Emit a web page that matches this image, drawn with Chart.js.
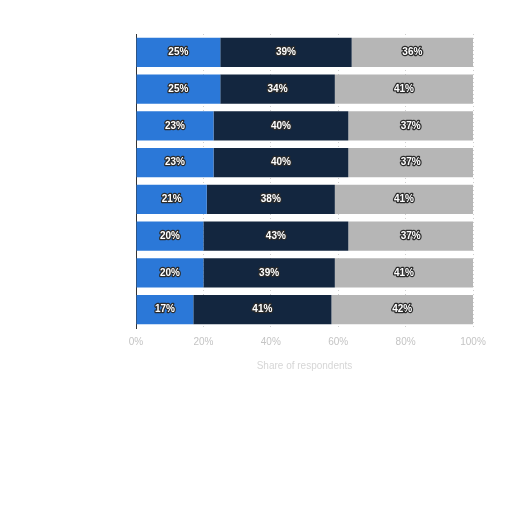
<!DOCTYPE html>
<html>
<head>
<meta charset="utf-8">
<script src="https://cdn.jsdelivr.net/npm/chart.js@4"></script>
<style>
    body { margin: 0; background: #fff; }
</style>
</head>
<body>
<canvas id="myChart" width="512" height="512"></canvas>
<script>
// rows from top to bottom (the category names are not readable in the picture)
const rows = ['Row 1', 'Row 2', 'Row 3', 'Row 4', 'Row 5', 'Row 6', 'Row 7', 'Row 8'];
const seriesA = [25, 25, 23, 23, 21, 20, 20, 17];
const seriesB = [39, 34, 40, 40, 38, 43, 39, 41];
const seriesC = [36, 41, 37, 37, 41, 37, 41, 42];
const xTicks = [0, 20, 40, 60, 80, 100];

// draw the "25%" labels in the middle of each segment
const segmentLabels = {
    id: 'segmentLabels',
    afterDatasetsDraw(chart) {
        const ctx = chart.ctx;
        ctx.save();
        ctx.font = 'bold 10px "Liberation Sans", Arial, sans-serif';
        ctx.textAlign = 'center';
        ctx.textBaseline = 'middle';
        ctx.lineJoin = 'round';
        chart.data.datasets.forEach((ds, i) => {
            const meta = chart.getDatasetMeta(i);
            meta.data.forEach((bar, j) => {
                const text = ds.data[j] + '%';
                const x = (bar.x + bar.base) / 2;
                ctx.lineWidth = 2.5;
                ctx.strokeStyle = '#2b2b2b';
                ctx.strokeText(text, x, bar.y);
                ctx.fillStyle = '#ffffff';
                ctx.fillText(text, x, bar.y);
            });
        });
        ctx.restore();
    }
};

const ctx = document.getElementById('myChart').getContext('2d');
const myChart = new Chart(ctx, {
    type: 'bar',
    data: {
        labels: rows,
        datasets: [
            {
                label: 'Series A',
                data: seriesA,
                backgroundColor: '#2b78d8',
                categoryPercentage: 0.79,
                barPercentage: 1,
            },
            {
                label: 'Series B',
                data: seriesB,
                backgroundColor: '#13263f',
                categoryPercentage: 0.79,
                barPercentage: 1,
            },
            {
                label: 'Series C',
                data: seriesC,
                backgroundColor: '#b6b6b6',
                categoryPercentage: 0.79,
                barPercentage: 1,
            },
        ]
    },
    options: {
        indexAxis: 'y',
        responsive: false,
        animation: false,
        layout: {
            padding: { left: 128, right: 39, top: 34, bottom: 136 }
        },
        plugins: {
            legend: { display: false },
            tooltip: { enabled: false }
        },
        scales: {
            x: {
                stacked: true,
                min: 0,
                max: 100,
                afterBuildTicks: axis => {
                    axis.ticks = xTicks.map(v => ({ value: v }));
                },
                ticks: {
                    color: '#c4c4c4',
                    font: { size: 10, family: 'Arial, sans-serif' },
                    padding: 8,
                    callback: v => v + '%'
                },
                grid: {
                    color: '#cfcfcf',
                    drawTicks: false
                },
                border: { display: false, dash: [1, 3] },
                title: {
                    display: true,
                    text: 'Share of respondents',
                    color: '#d6d6d6',
                    font: { size: 10, family: 'Arial, sans-serif' }
                }
            },
            y: {
                stacked: true,
                ticks: { display: false },
                grid: { display: false },
                border: { color: '#333333', width: 1 }
            }
        }
    },
    plugins: [segmentLabels]
});
</script>
</body>
</html>
